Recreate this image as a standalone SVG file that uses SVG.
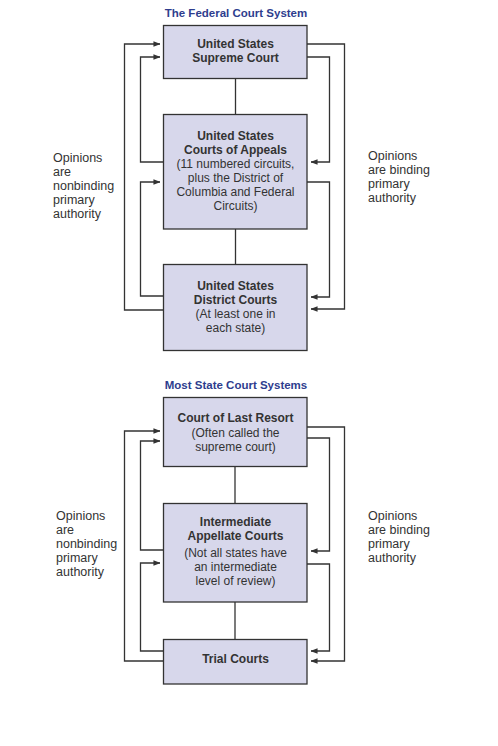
<svg xmlns="http://www.w3.org/2000/svg" width="498" height="746" viewBox="0 0 498 746">
<defs>
<marker id="ah" viewBox="0 0 8 8" refX="7.5" refY="4" markerWidth="7" markerHeight="7" markerUnits="userSpaceOnUse" orient="auto">
<path d="M0,0.8 L8,4 L0,7.2 Z" fill="#333"/>
</marker>
<style>
.bg{fill:#ffffff}
.box{fill:#d7d7eb;stroke:#333;stroke-width:1.3}
.ln{fill:none;stroke:#333;stroke-width:1.3}
.ar{fill:none;stroke:#333;stroke-width:1.3;marker-end:url(#ah)}
text{font-family:"Liberation Sans",Arial,sans-serif;fill:#333}
.t{font-size:11.5px;font-weight:bold;fill:#2e3d8e;text-anchor:middle}
.b{font-size:12px;font-weight:bold;text-anchor:middle}
.r{font-size:12px;text-anchor:middle}
.lab{font-size:12.5px}
</style>
</defs>
<rect class="bg" x="0" y="0" width="498" height="746"/>

<text class="t" x="236" y="17">The Federal Court System</text>
<text class="t" x="236" y="389">Most State Court Systems</text>

<g id="connectors">
<line class="ln" x1="235.5" y1="78" x2="235.5" y2="114"/>
<line class="ln" x1="235.5" y1="229" x2="235.5" y2="264"/>
<path class="ar" d="M163,310 H124.5 V44 H160"/>
<path class="ar" d="M163,162 H140.5 V57 H160"/>
<path class="ar" d="M163,296 H140.5 V182 H160"/>
<path class="ar" d="M307,44 H344.5 V309 H311"/>
<path class="ar" d="M307,57 H329.5 V162 H311"/>
<path class="ar" d="M307,182 H329.5 V297 H311"/>

<line class="ln" x1="235" y1="467" x2="235" y2="503"/>
<line class="ln" x1="235" y1="602" x2="235" y2="639"/>
<path class="ar" d="M163,661 H124.5 V431 H160"/>
<path class="ar" d="M163,550 H140.5 V441 H160"/>
<path class="ar" d="M163,651 H140.5 V563 H160"/>
<path class="ar" d="M307,427 H344.5 V661 H311"/>
<path class="ar" d="M307,438 H329.5 V551 H311"/>
<path class="ar" d="M307,564 H329.5 V651 H311"/>
</g>

<g id="us-supreme">
<rect class="box" x="163.5" y="25.5" width="143.5" height="53"/>
<text class="b" x="235.5" y="48">United States</text>
<text class="b" x="235.5" y="62">Supreme Court</text>
</g>
<g id="us-appeals">
<rect class="box" x="163.5" y="114.5" width="143.5" height="114.5"/>
<text class="b" x="235.5" y="140">United States</text>
<text class="b" x="235.5" y="154">Courts of Appeals</text>
<text class="r" x="235.5" y="168">(11 numbered circuits,</text>
<text class="r" x="235.5" y="182">plus the District of</text>
<text class="r" x="235.5" y="196">Columbia and Federal</text>
<text class="r" x="235.5" y="210">Circuits)</text>
</g>
<g id="us-district">
<rect class="box" x="163.5" y="264.5" width="143.5" height="86"/>
<text class="b" x="235.5" y="290">United States</text>
<text class="b" x="235.5" y="304">District Courts</text>
<text class="r" x="235.5" y="318">(At least one in</text>
<text class="r" x="235.5" y="332">each state)</text>
</g>
<g id="fed-left-label">
<text class="lab" x="53" y="162">Opinions</text>
<text class="lab" x="53" y="176">are</text>
<text class="lab" x="53" y="190">nonbinding</text>
<text class="lab" x="53" y="204">primary</text>
<text class="lab" x="53" y="218">authority</text>
</g>
<g id="fed-right-label">
<text class="lab" x="368" y="160">Opinions</text>
<text class="lab" x="368" y="174">are binding</text>
<text class="lab" x="368" y="188">primary</text>
<text class="lab" x="368" y="202">authority</text>
</g>

<g id="state-last-resort">
<rect class="box" x="163.5" y="397.5" width="143.5" height="69"/>
<text class="b" x="235.5" y="422">Court of Last Resort</text>
<text class="r" x="235.5" y="437">(Often called the</text>
<text class="r" x="235.5" y="451">supreme court)</text>
</g>
<g id="state-intermediate">
<rect class="box" x="163.5" y="503.5" width="143.5" height="98.5"/>
<text class="b" x="235.5" y="526">Intermediate</text>
<text class="b" x="235.5" y="540">Appellate Courts</text>
<text class="r" x="235.5" y="557">(Not all states have</text>
<text class="r" x="235.5" y="571">an intermediate</text>
<text class="r" x="235.5" y="585">level of review)</text>
</g>
<g id="state-trial">
<rect class="box" x="163.5" y="639.5" width="143.5" height="44.5"/>
<text class="b" x="235.5" y="663">Trial Courts</text>
</g>
<g id="state-left-label">
<text class="lab" x="56" y="520">Opinions</text>
<text class="lab" x="56" y="534">are</text>
<text class="lab" x="56" y="548">nonbinding</text>
<text class="lab" x="56" y="562">primary</text>
<text class="lab" x="56" y="576">authority</text>
</g>
<g id="state-right-label">
<text class="lab" x="368" y="520">Opinions</text>
<text class="lab" x="368" y="534">are binding</text>
<text class="lab" x="368" y="548">primary</text>
<text class="lab" x="368" y="562">authority</text>
</g>
</svg>
